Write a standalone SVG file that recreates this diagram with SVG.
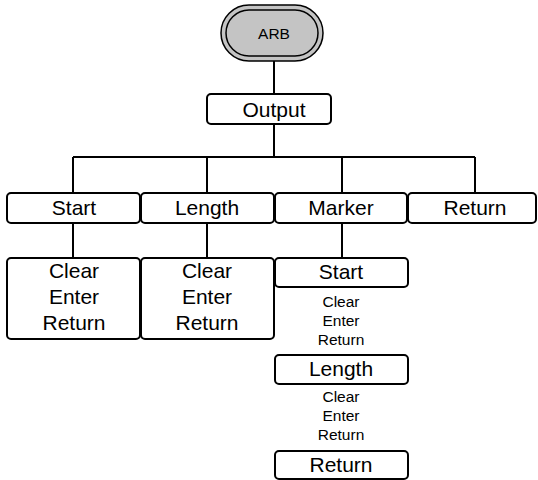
<svg xmlns="http://www.w3.org/2000/svg" width="538" height="480" viewBox="0 0 538 480">
<style>
.b{fill:#fff;stroke:#000;stroke-width:2}
.t{font-family:"Liberation Sans",Arial,sans-serif;font-size:21px;text-anchor:middle;fill:#000}
.s{font-family:"Liberation Sans",Arial,sans-serif;font-size:15.5px;text-anchor:middle;fill:#000}
.c{fill:none;stroke:#000;stroke-width:2}
</style>
<rect width="538" height="480" fill="#fff"/>
<g id="connectors">
<path class="c" d="M274 60V94M274 124V157M73 157H475M73 157V193M207 157V193M342 157V193M475 157V193M73 223V258M207 223V258M342 223V258"/>
</g>
<g id="arb">
<rect x="221" y="5" width="102" height="56" rx="28" fill="#c4c4c4" stroke="#000" stroke-width="1.5"/>
<rect x="226" y="10" width="92" height="46" rx="23" fill="#c4c4c4" stroke="#000" stroke-width="1.5"/>
<text class="s" x="274" y="39" font-size="15px">ARB</text>
</g>
<g id="output"><rect class="b" x="207" y="94" width="124" height="30" rx="4"/><text class="t" x="274" y="117">Output</text></g>
<g id="start"><rect class="b" x="7" y="193" width="133" height="30" rx="4"/><text class="t" x="74" y="215">Start</text></g>
<g id="length"><rect class="b" x="141" y="193" width="133" height="30" rx="4"/><text class="t" x="207" y="215">Length</text></g>
<g id="marker"><rect class="b" x="275" y="193" width="132" height="30" rx="4"/><text class="t" x="341" y="215">Marker</text></g>
<g id="return"><rect class="b" x="408" y="193" width="128" height="30" rx="4"/><text class="t" x="475" y="215">Return</text></g>
<g id="start-sub"><rect class="b" x="7" y="258" width="133" height="81" rx="4"/>
<text class="t" x="74" y="278">Clear</text><text class="t" x="74" y="304">Enter</text><text class="t" x="74" y="330">Return</text></g>
<g id="length-sub"><rect class="b" x="141" y="258" width="133" height="81" rx="4"/>
<text class="t" x="207" y="278">Clear</text><text class="t" x="207" y="304">Enter</text><text class="t" x="207" y="330">Return</text></g>
<g id="marker-start"><rect class="b" x="275" y="258" width="133" height="29" rx="4"/><text class="t" x="341" y="279">Start</text></g>
<g id="marker-start-items"><text class="s" x="341" y="307">Clear</text><text class="s" x="341" y="326">Enter</text><text class="s" x="341" y="345">Return</text></g>
<g id="marker-length"><rect class="b" x="275" y="355" width="133" height="29" rx="4"/><text class="t" x="341" y="376">Length</text></g>
<g id="marker-length-items"><text class="s" x="341" y="402">Clear</text><text class="s" x="341" y="421">Enter</text><text class="s" x="341" y="440">Return</text></g>
<g id="marker-return"><rect class="b" x="275" y="451" width="133" height="28" rx="4"/><text class="t" x="341" y="472">Return</text></g>
</svg>
